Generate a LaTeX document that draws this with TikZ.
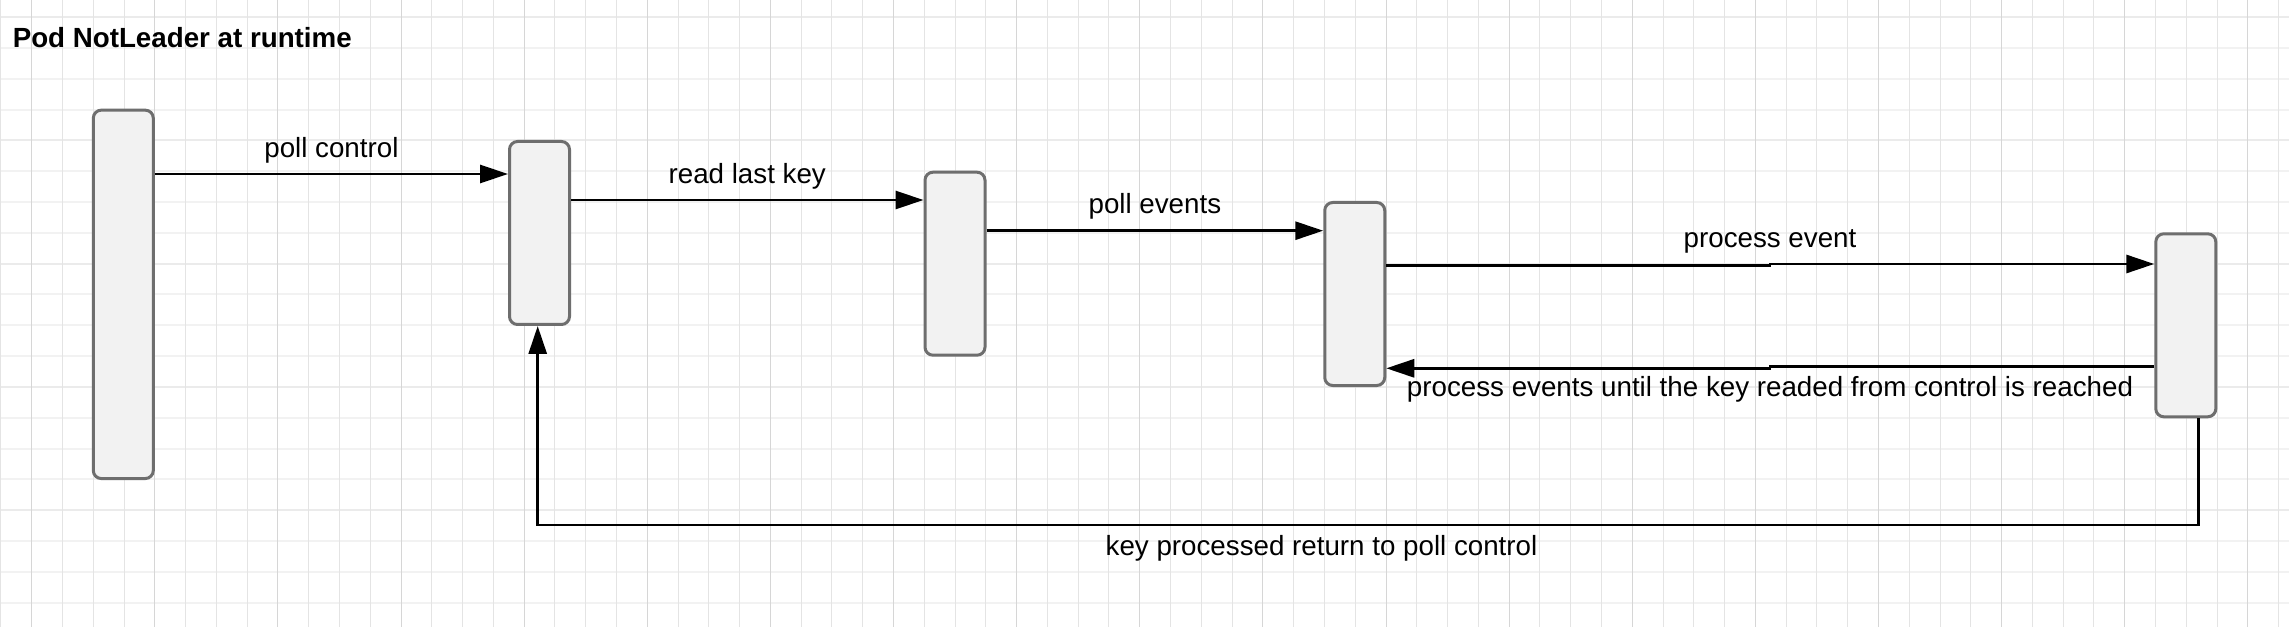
\documentclass[tikz,border=0pt]{standalone}
\usepackage{fontspec}
\setmainfont{Liberation Sans}
\usetikzlibrary{arrows.meta}
\definecolor{boxfill}{HTML}{F2F2F2}
\definecolor{boxline}{HTML}{6E6E6E}
\definecolor{gridv}{HTML}{E4E4E4}
\definecolor{gridvmaj}{HTML}{D6D6D6}
\definecolor{gridh}{HTML}{F2F2F2}
\definecolor{gridhmaj}{HTML}{EBEBEB}
\newcommand\labfont{\fontsize{20.8pt}{24pt}\selectfont}
\begin{document}
\begin{tikzpicture}[x=0.75pt,y=-0.75pt,
  lane/.style={draw=boxline, fill=boxfill, line width=2.25pt, rounded corners=6pt,
    minimum width=45pt, minimum height=137.25pt, inner sep=0pt},
  msg/.style={draw=black, line width=2.2pt, -{Triangle[length=21pt,width=13.5pt]}},
  lab/.style={font=\labfont, anchor=base, inner sep=0pt},
  vgrid/.style={draw=gridv, line width=0.75pt},
  vgridmaj/.style={draw=gridvmaj, line width=0.75pt},
  hgrid/.style={draw=gridh, line width=1.5pt},
  hgridmaj/.style={draw=gridhmaj, line width=1.5pt},
]
\useasboundingbox (0,0) rectangle (2289,627);
\fill[white] (0,0) rectangle (2289,627);
% grid
\foreach \k in {0,...,19} {
  \pgfmathsetmacro\yy{17.3+30.8*\k}
  \draw[hgrid] (0,\yy) -- (2289,\yy);
}
\foreach \k in {0,4,...,16} {
  \pgfmathsetmacro\yy{17.3+30.8*\k}
  \draw[hgridmaj] (0,\yy) -- (2289,\yy);
}
\foreach \k in {0,...,74} {
  \pgfmathsetmacro\xx{0.9+30.78*\k}
  \draw[vgrid] (\xx,0) -- (\xx,627);
}
\foreach \k in {1,5,...,73} {
  \pgfmathsetmacro\xx{0.9+30.78*\k}
  \draw[vgridmaj] (\xx,0) -- (\xx,627);
}
% title
\node[anchor=base west, inner sep=0pt, font=\labfont\bfseries] (title) at (12.5,47.7) {Pod NotLeader at runtime};
% lifeline boxes
\node[lane, minimum height=276.3pt] (b1) at (123.3,294.35) {};
\node[lane] (b2) at (539.5,233) {};
\node[lane] (b3) at (955,263.7) {};
\node[lane] (b4) at (1354.75,294) {};
\node[lane] (b5) at (2185.8,325.3) {};
% helper coordinates
\coordinate (ya) at (0,174);
\coordinate (yb) at (0,200);
\coordinate (yc) at (0,230.7);
\coordinate (m4a) at (1770,265.3);
\coordinate (m4b) at (1770,264);
\coordinate (m5a) at (1770,366.7);
\coordinate (m5b) at (1770,368.3);
\coordinate (l1) at (2198.3,525);
\coordinate (l2) at (537.7,525);
% messages
\draw[msg] (b1.east |- ya) -- node[lab, yshift=12pt] {poll control} (b2.west |- ya);
\draw[msg] (b2.east |- yb) -- node[lab, yshift=12.2pt] {read last key} (b3.west |- yb);
\draw[msg] (b3.east |- yc) -- node[lab, yshift=12.9pt] {poll events} (b4.west |- yc);
\draw[msg] (b4.east |- m4a) -- (m4a) -- (m4b) node[lab, yshift=12pt] {process event} -- (b5.west |- m4b);
\draw[msg] (b5.west |- m5a) -- (m5a) -- (m5b) node[lab, yshift=-21.5pt] {process events until the key readed from control is reached} -- (b4.east |- m5b);
\draw[msg] (b5.south -| l1) -- (l1) -- node[lab, pos=0.528, yshift=-22.5pt] {key processed return to poll control} (l2) -- (b2.south -| l2);
\end{tikzpicture}
\end{document}
